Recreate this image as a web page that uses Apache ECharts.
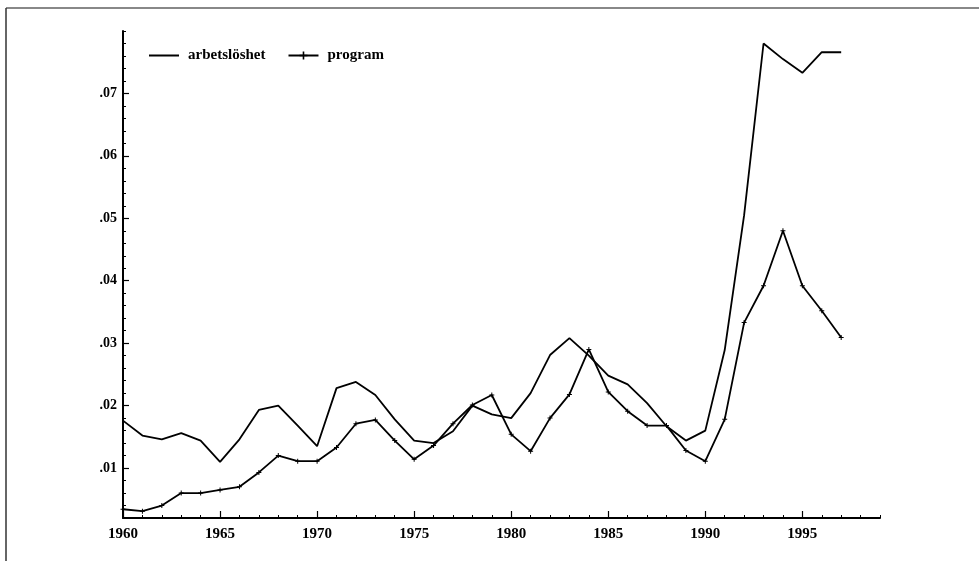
<!DOCTYPE html>
<html>
<head>
<meta charset="utf-8">
<script src="https://cdn.jsdelivr.net/npm/echarts@6/dist/echarts.min.js"></script>
<style>html,body{margin:0;padding:0;background:#fff}#c{width:979px;height:561px}</style>
</head>
<body>
<div id="c"></div>
<script>
const years = [1960,1961,1962,1963,1964,1965,1966,1967,1968,1969,1970,1971,1972,1973,1974,1975,1976,1977,1978,1979,1980,1981,1982,1983,1984,1985,1986,1987,1988,1989,1990,1991,1992,1993,1994,1995,1996,1997];
const arbetsloshet = [0.0176,0.0152,0.0146,0.0156,0.0144,0.0110,0.0146,0.0193,0.0200,0.0168,0.0135,0.0228,0.0238,0.0217,0.0178,0.0144,0.0140,0.0159,0.0200,0.0186,0.0180,0.0220,0.0281,0.0308,0.0280,0.0248,0.0234,0.0204,0.0167,0.0144,0.0160,0.0289,0.0505,0.0780,0.0755,0.0733,0.0766,0.0766];
const program = [0.0034,0.0031,0.0040,0.0060,0.0060,0.0065,0.0070,0.0093,0.0120,0.0111,0.0111,0.0133,0.0171,0.0177,0.0144,0.0114,0.0136,0.0171,0.0201,0.0217,0.0154,0.0127,0.0180,0.0218,0.0290,0.0222,0.0191,0.0168,0.0168,0.0128,0.0111,0.0178,0.0333,0.0392,0.0480,0.0392,0.0352,0.0309];
const yearLabels = [1960,1965,1970,1975,1980,1985,1990,1995];
const yLabels = [0.01,0.02,0.03,0.04,0.05,0.06,0.07];

const font = '"Liberation Serif", "DejaVu Serif", serif';
const chart = echarts.init(document.getElementById('c'));
const zip = a => years.map((y,i)=>[y,a[i]]);
chart.setOption({
  animation:false,
  backgroundColor:'#fff',
  graphic:[
    {type:'line', shape:{x1:6,y1:8,x2:979,y2:8}, style:{stroke:'#888',lineWidth:2}},
    {type:'line', shape:{x1:6,y1:8,x2:6,y2:561}, style:{stroke:'#333',lineWidth:1.5}}
  ],
  legend:{
    left:144, top:43, itemWidth:30, itemHeight:10, itemGap:22,
    textStyle:{fontFamily:font, fontWeight:'bold', fontSize:15, color:'#000', padding:[0,0,0,4]},
    data:[{name:'arbetslöshet', icon:'path://M0,0h30v2h-30z', itemStyle:{color:'#000'}},{name:'program'}]
  },
  grid:{left:123, right:99, top:31, bottom:43},
  xAxis:[
    {type:'value', min:1960, max:1999, interval:1,
     axisLine:{lineStyle:{color:'#000',width:2}},
     axisTick:{inside:true,length:3,lineStyle:{color:'#000',width:1}},
     axisLabel:{customValues:yearLabels, margin:9, fontFamily:font, fontWeight:'bold', fontSize:15, color:'#000', formatter:v=>String(v)},
     splitLine:{show:false}},
    {type:'value', min:1960, max:1999, position:'bottom',
     axisLine:{show:false},
     axisTick:{inside:true,length:7,customValues:yearLabels,lineStyle:{color:'#000',width:1.2}},
     axisLabel:{show:false}, splitLine:{show:false}}
  ],
  yAxis:[
    {type:'value', min:0.002, max:0.080, interval:0.002, position:'left',
     axisLine:{show:true,lineStyle:{color:'#000',width:2}},
     axisTick:{show:true,inside:true,length:3,lineStyle:{color:'#000',width:1}},
     axisLabel:{show:false}, splitLine:{show:false}},
    {type:'value', min:0.002, max:0.080, position:'left',
     axisLine:{show:false},
     axisTick:{show:true,inside:true,length:6,customValues:yLabels,lineStyle:{color:'#000',width:1.2}},
     axisLabel:{customValues:yLabels, margin:6, fontFamily:font, fontWeight:'bold', fontSize:14, color:'#000',
       formatter:v=>'.0'+Math.round(v*100)},
     splitLine:{show:false}}
  ],
  series:[
    {name:'arbetslöshet', type:'line', data:zip(arbetsloshet), showSymbol:false, symbol:'none',
     lineStyle:{color:'#000',width:1.8}, itemStyle:{color:'#000'}},
    {name:'program', type:'line', data:zip(program), symbol:'path://M2,0h1v2h2v1h-2v2h-1v-2h-2v-1h2z', symbolSize:5,
     lineStyle:{color:'#000',width:1.8}, itemStyle:{color:'#000'}}
  ]
});
</script>
</body>
</html>
